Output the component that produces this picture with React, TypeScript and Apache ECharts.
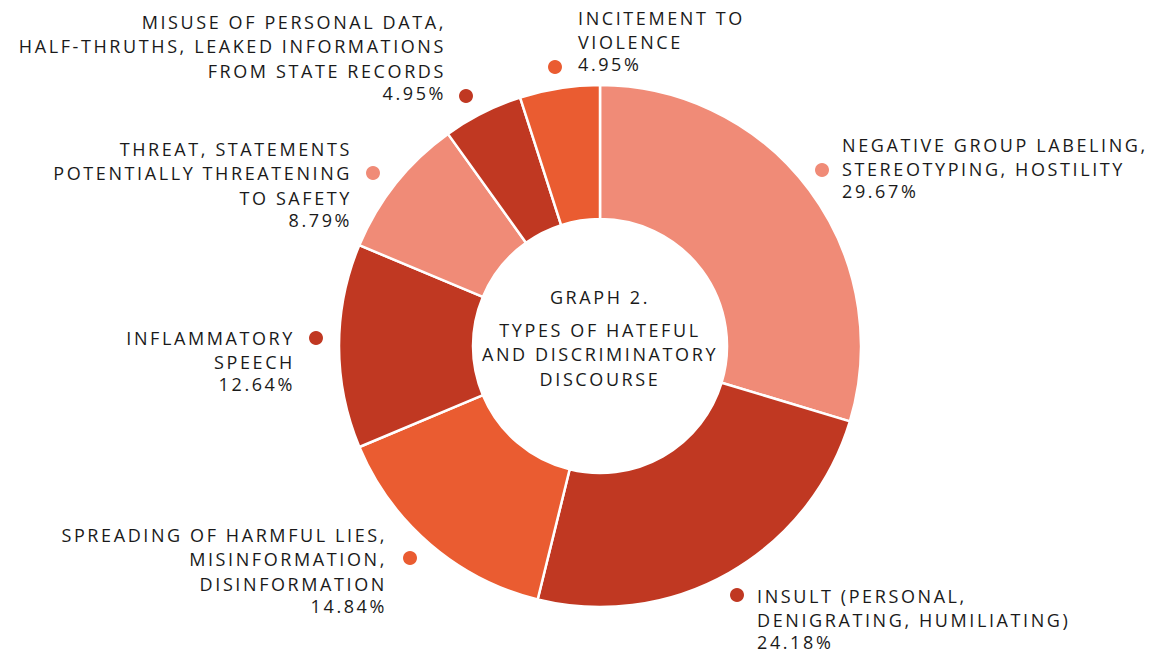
import React, { useEffect, useRef } from "react";
import * as echarts from "echarts";

const categories = [
  "NEGATIVE GROUP LABELING,\nSTEREOTYPING, HOSTILITY",
  "INSULT (PERSONAL,\nDENIGRATING, HUMILIATING)",
  "SPREADING OF HARMFUL LIES,\nMISINFORMATION,\nDISINFORMATION",
  "INFLAMMATORY\nSPEECH",
  "THREAT, STATEMENTS\nPOTENTIALLY THREATENING\nTO SAFETY",
  "MISUSE OF PERSONAL DATA,\nHALF-THRUTHS, LEAKED INFORMATIONS\nFROM STATE RECORDS",
  "INCITEMENT TO\nVIOLENCE",
];
const values = [29.67, 24.18, 14.84, 12.64, 8.79, 4.95, 4.95];
const colors = ["#F08B77", "#C03822", "#EA5C31", "#C03822", "#F08B77", "#C03822", "#EA5C31"];
const centerTitle = "GRAPH 2.";
const centerText = "TYPES OF HATEFUL\nAND DISCRIMINATORY\nDISCOURSE";

// label layout: text anchor x, first line center y, alignment, dot position
const labelLayout = [
  { x: 842, y: 145, align: "left", dx: 822, dy: 170 },
  { x: 757, y: 596, align: "left", dx: 737, dy: 595 },
  { x: 387, y: 535, align: "right", dx: 410, dy: 558 },
  { x: 295, y: 338, align: "right", dx: 316, dy: 338 },
  { x: 352, y: 149, align: "right", dx: 373, dy: 173 },
  { x: 446, y: 22, align: "right", dx: 466, dy: 96 },
  { x: 578, y: 18, align: "left", dx: 555, dy: 67 },
];

const FONT = "'Open Sans', Lato, sans-serif";
const FS = 18;
const LH = 24.3;

export default function App() {
  const ref = useRef<HTMLDivElement>(null);
  useEffect(() => {
    if (!ref.current) return;
    const chart = echarts.init(ref.current, undefined, { renderer: "svg" });
    const graphics: any[] = [];
    categories.forEach((c, i) => {
      const l = labelLayout[i];
      const lines = c.split("\n").map((s) => `{t|${s}}`);
      lines.push(`{p|${values[i].toFixed(2)}%}`);
      graphics.push({
        type: "text",
        x: l.x,
        y: l.y - LH / 2,
        style: {
          text: lines.join("\n"),
          fill: "#1a1a1a",
          font: `400 ${FS}px ${FONT}`,
          align: l.align,
          verticalAlign: "top",
          rich: {
            t: { lineHeight: LH, fontSize: FS, fontFamily: FONT, fill: "#1a1a1a", align: l.align },
            p: { lineHeight: 20, fontSize: FS, fontFamily: FONT, fill: "#1a1a1a", align: l.align },
          },
        },
      });
      graphics.push({
        type: "circle",
        shape: { cx: l.dx, cy: l.dy, r: 7 },
        style: { fill: colors[i] },
      });
    });
    graphics.push({
      type: "text",
      x: 600,
      y: 297 - LH / 2,
      style: {
        text: centerTitle,
        fill: "#1a1a1a",
        font: `400 ${FS}px ${FONT}`,
        lineHeight: LH,
        align: "center",
        verticalAlign: "top",
      },
    });
    graphics.push({
      type: "text",
      x: 600,
      y: 330 - LH / 2,
      style: {
        text: centerText,
        fill: "#1a1a1a",
        font: `400 ${FS}px ${FONT}`,
        lineHeight: LH,
        align: "center",
        verticalAlign: "top",
      },
    });
    chart.setOption({
      animation: false,
      graphic: graphics,
      series: [
        {
          type: "pie",
          center: [600, 346],
          radius: [127, 261],
          startAngle: 90,
          clockwise: true,
          label: { show: false },
          labelLine: { show: false },
          itemStyle: { borderColor: "#ffffff", borderWidth: 2.5 },
          emphasis: { disabled: true },
          data: categories.map((c, i) => ({
            name: c,
            value: values[i],
            itemStyle: { color: colors[i] },
          })),
        },
      ],
    });
    return () => chart.dispose();
  }, []);
  return (
    <div
      ref={ref}
      style={{
        position: "fixed",
        left: 0,
        top: 0,
        width: 1158,
        height: 654,
        background: "#fff",
        letterSpacing: "2.6px",
      }}
    />
  );
}
